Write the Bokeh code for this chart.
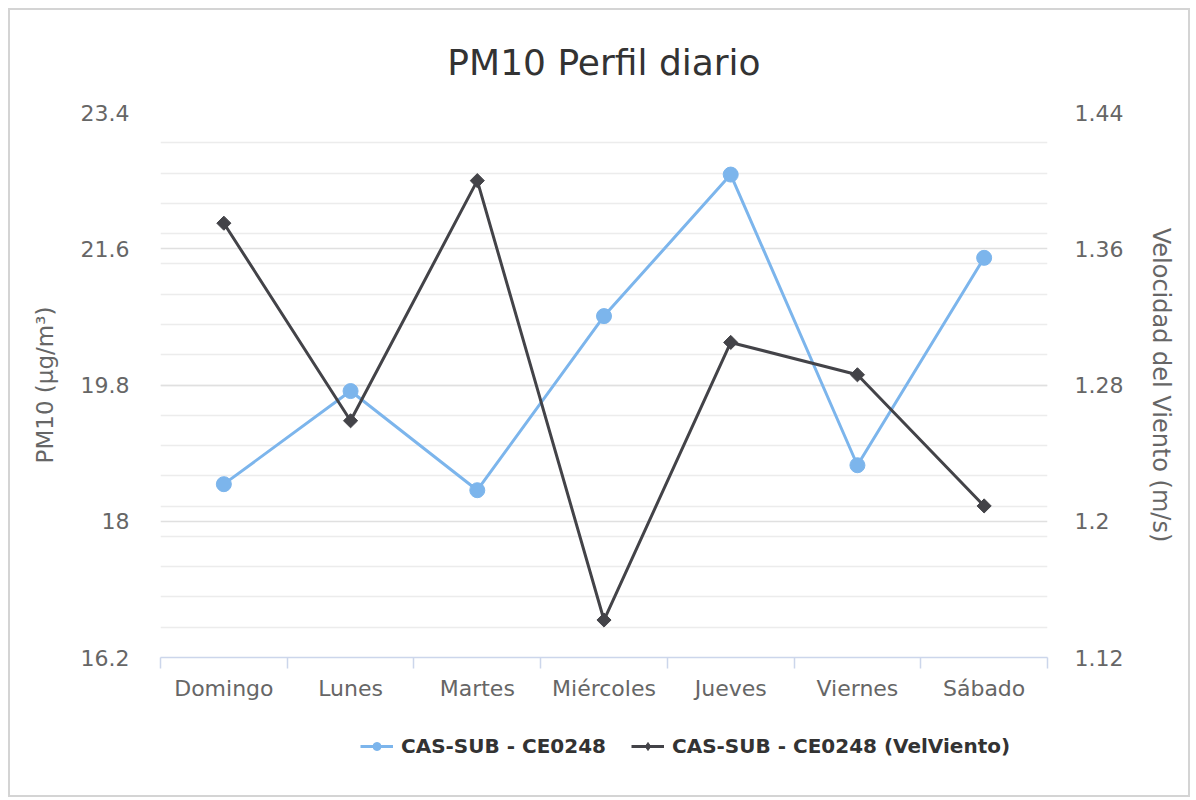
import numpy as np
from bokeh.plotting import figure
from bokeh.layouts import column
from bokeh.models import Range1d, LinearAxis, FixedTicker, Legend, LegendItem
from bokeh.embed import file_html
from bokeh.resources import INLINE

# ---- data ----
days = ["Domingo", "Lunes", "Martes", "Miércoles", "Jueves", "Viernes", "Sábado"]
pm10 = [18.49, 19.72, 18.41, 20.71, 22.58, 18.74, 21.48]
wind = [1.375, 1.259, 1.400, 1.142, 1.305, 1.286, 1.209]
pm10_ticks = [16.2, 18.0, 19.8, 21.6, 23.4]
wind_ticks = [1.12, 1.20, 1.28, 1.36, 1.44]
series_names = ["CAS-SUB - CE0248", "CAS-SUB - CE0248 (VelViento)"]
title_text = "PM10 Perfil diario"
y_label = "PM10 (µg/m³)"
y2_label = "Velocidad del Viento (m/s)"

FONT = "DejaVu Sans"
BLUE = "#7cb5ec"
DARK = "#434348"

x = [i + 0.5 for i in range(len(days))]
pm_minor_step = 0.4
n_minor = int(round((pm10_ticks[-1] - pm10_ticks[0]) / pm_minor_step))
pm_minor = [round(pm10_ticks[0] + pm_minor_step * k, 4) for k in range(n_minor + 1)]

W = 1178
p = figure(width=W, height=700,
           x_range=Range1d(0, len(days)),
           y_range=Range1d(pm10_ticks[0], pm10_ticks[-1]),
           output_backend="svg", toolbar_location=None,
           min_border_left=150, min_border_right=141,
           min_border_top=102, min_border_bottom=53,
           title=title_text)
p.outline_line_color = None
p.extra_y_ranges = {"wind": Range1d(wind_ticks[0], wind_ticks[-1])}

# title
p.title.align = "center"
p.title.text_font = FONT
p.title.text_font_size = "36px"
p.title.text_font_style = "normal"
p.title.text_color = "#333333"
p.title.standoff = 59

# x axis
xa = p.xaxis[0]
xa.ticker = FixedTicker(ticks=x, minor_ticks=list(range(len(days) + 1)))
xa.major_label_overrides = {xi: d for xi, d in zip(x, days)}
xa.major_tick_line_color = None
xa.major_tick_out = 0
xa.major_tick_in = 0
xa.minor_tick_line_color = "#ccd6eb"
xa.minor_tick_line_width = 1.5
xa.minor_tick_out = 11
xa.minor_tick_in = 0
xa.axis_line_color = "#ccd6eb"
xa.axis_line_width = 1.5
xa.major_label_text_font = FONT
xa.major_label_text_font_size = "22px"
xa.major_label_text_color = "#666666"
xa.major_label_standoff = 7
p.xgrid.visible = False

# left y axis
ya = p.yaxis[0]
ya.ticker = FixedTicker(ticks=pm10_ticks, minor_ticks=pm_minor)
ya.major_label_overrides = {t: f"{t:g}" for t in pm10_ticks}
ya.axis_line_color = None
ya.major_tick_line_color = None
ya.minor_tick_line_color = None
ya.major_tick_out = 0
ya.major_tick_in = 0
ya.major_label_text_font = FONT
ya.major_label_text_font_size = "22px"
ya.major_label_text_color = "#666666"
ya.major_label_standoff = 27
ya.axis_label = y_label
ya.axis_label_text_font = FONT
ya.axis_label_text_font_size = "23px"
ya.axis_label_text_font_style = "normal"
ya.axis_label_text_color = "#666666"
ya.axis_label_standoff = 20
p.ygrid.grid_line_color = "#e0e0e0"
p.ygrid.grid_line_width = 1.5
p.ygrid.minor_grid_line_color = "#ececec"
p.ygrid.minor_grid_line_width = 1.5

# right y axis (Bokeh's default right label reads top-to-bottom)
ya2 = LinearAxis(y_range_name="wind", ticker=FixedTicker(ticks=wind_ticks),
                 axis_label=y2_label)
ya2.major_label_overrides = {t: f"{t:g}" for t in wind_ticks}
ya2.axis_line_color = None
ya2.major_tick_line_color = None
ya2.minor_tick_line_color = None
ya2.major_tick_out = 0
ya2.major_tick_in = 0
ya2.major_label_text_font = FONT
ya2.major_label_text_font_size = "22px"
ya2.major_label_text_color = "#666666"
ya2.major_label_standoff = 27
ya2.axis_label_text_font = FONT
ya2.axis_label_text_font_size = "24px"
ya2.axis_label_text_font_style = "normal"
ya2.axis_label_text_color = "#666666"
ya2.axis_label_standoff = 21
p.add_layout(ya2, "right")

# series
p.line(x, pm10, line_color=BLUE, line_width=3)
p.scatter(x, pm10, marker="circle", size=15, fill_color=BLUE, line_color=BLUE)
p.line(x, wind, line_color=DARK, line_width=3, y_range_name="wind")
p.scatter(x, wind, marker="square", angle=np.pi / 4, size=10,
          fill_color=DARK, line_color=DARK, y_range_name="wind")

# legend strip: separate canvas so the legend is not clipped by the main frame.
# Its renderers use the same series but the strip's ranges keep them out of view.
q = figure(width=W, height=85, x_range=Range1d(0, 1), y_range=Range1d(0, 1),
           output_backend="svg", toolbar_location=None,
           x_axis_type=None, y_axis_type=None, min_border=0)
q.grid.visible = False
q.outline_line_color = None
lk1 = q.line(x, pm10, line_color=BLUE, line_width=3)
sk1 = q.scatter(x, pm10, marker="circle", size=15, fill_color=BLUE, line_color=BLUE)
lk2 = q.line(x, [v + 1 for v in wind], line_color=DARK, line_width=3)
sk2 = q.scatter(x, [v + 1 for v in wind], marker="diamond", size=15,
                fill_color=DARK, line_color=DARK)
legend = Legend(items=[LegendItem(label=series_names[0], renderers=[lk1, sk1]),
                       LegendItem(label=series_names[1], renderers=[lk2, sk2])],
                orientation="horizontal", location=(200, 37),
                border_line_color=None, background_fill_alpha=0,
                label_text_font=FONT, label_text_font_size="20px",
                label_text_font_style="bold", label_text_color="#333333",
                glyph_width=33, glyph_height=20, label_standoff=8,
                spacing=25, padding=0, margin=0, label_height=20)
q.add_layout(legend, "center")

layout = column(p, q, spacing=0)
layout.styles = {"border": "2px solid #d4d4d4", "margin": "8px 0 0 8px"}

open("out.html", "w").write(file_html(layout, INLINE))
